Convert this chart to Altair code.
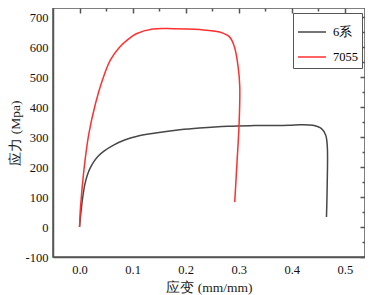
import altair as alt
import pandas as pd

# ---- data ----
series_names = ["6系", "7055"]
series_colors = ["#474747", "#ff3030"]

s6_strain = [0, 0.003, 0.0065, 0.01, 0.0145, 0.02, 0.027, 0.035, 0.046, 0.065, 0.085, 0.107, 0.143,
             0.189, 0.226, 0.28, 0.33, 0.396, 0.415, 0.44, 0.456, 0.464, 0.467, 0.4668, 0.4654]
s6_stress = [0, 55, 105, 142, 172, 196, 218, 236, 253, 274, 290, 302, 313,
             324, 330, 336, 338, 339, 341, 339, 328, 306, 267, 144, 33]

r_strain = [0, 0.0019, 0.0082, 0.0176, 0.030, 0.043, 0.058, 0.075, 0.092, 0.107, 0.138,
            0.176, 0.226, 0.264, 0.283, 0.292, 0.299, 0.302, 0.3006, 0.297, 0.2925]
r_stress = [0, 67, 189, 311, 411, 489, 556, 598, 626, 644, 660,
            661, 658, 650, 633, 600, 533, 467, 339, 222, 83]

x_major = [0.0, 0.1, 0.2, 0.3, 0.4, 0.5]
x_minor = [0.05, 0.15, 0.25, 0.35, 0.45]
y_major = [-100, 0, 100, 200, 300, 400, 500, 600, 700]
y_minor = [-50, 50, 150, 250, 350, 450, 550, 650]

x_domain = [-0.05, 0.538]
y_domain = [-100, 730]

rows = []
for name, xs_, ys_ in [(series_names[0], s6_strain, s6_stress), (series_names[1], r_strain, r_stress)]:
    for i, (a, b) in enumerate(zip(xs_, ys_)):
        rows.append({"series": name, "strain": a, "stress": b, "idx": i})
df = pd.DataFrame(rows)

FONT = "Liberation Serif"
AX = "#555555"

base = alt.Chart(df)

def xs(axis):
    return alt.X("strain:Q", scale=alt.Scale(domain=x_domain, nice=False, zero=False), axis=axis)

def ys(axis):
    return alt.Y("stress:Q", scale=alt.Scale(domain=y_domain, nice=False, zero=False), axis=axis)

lines = base.mark_line(strokeWidth=1.5, interpolate="catmull-rom").encode(
    x=xs(alt.Axis(values=x_major, format=".1f", title="应变 (mm/mm)", ticks=False, grid=False,
                  labelFont=FONT, titleFont=FONT, labelFontSize=12.5, titleFontSize=13.5,
                  labelPadding=6, titlePadding=5, domainColor=AX, domainWidth=1.5)),
    y=ys(alt.Axis(values=y_major, labelExpr="'' + datum.value", title="应力 (Mpa)", ticks=False, grid=False,
                  labelFont=FONT, titleFont=FONT, labelFontSize=12.5, titleFontSize=13.5,
                  labelPadding=5, titlePadding=3, domainColor=AX, domainWidth=1.5)),
    color=alt.Color("series:N", scale=alt.Scale(domain=series_names, range=series_colors),
                    legend=alt.Legend(title=None, orient="none", legendX=240, legendY=5,
                                      symbolType="stroke", symbolSize=784, symbolStrokeWidth=1.5,
                                      labelFontSize=12.5, labelFont=FONT, labelOffset=6,
                                      padding=4, rowPadding=3, strokeColor=AX,
                                      fillColor="white", cornerRadius=0)),
    order=alt.Order("idx:Q"),
)

major = base.mark_point(opacity=0).encode(
    x=xs(alt.Axis(values=x_major, labels=False, domain=False, title=None, grid=False,
                  tickSize=5, offset=-5, tickColor=AX, tickWidth=1.5)),
    y=ys(alt.Axis(values=y_major, labels=False, domain=False, title=None, grid=False,
                  tickSize=5, offset=-5, tickColor=AX, tickWidth=1.5)),
)

minor = base.mark_point(opacity=0).encode(
    x=xs(alt.Axis(values=x_minor, labels=False, domain=False, title=None, grid=False,
                  tickSize=3, offset=-3, tickColor=AX, tickWidth=1.5)),
    y=ys(alt.Axis(values=y_minor, labels=False, domain=False, title=None, grid=False,
                  tickSize=3, offset=-3, tickColor=AX, tickWidth=1.5)),
)

chart = alt.layer(lines, major, minor).resolve_scale(
    x="independent", y="independent"
).resolve_axis(
    x="independent", y="independent"
).properties(
    width=312, height=249,
    autosize=alt.AutoSizeParams(type="none"),
    padding={"left": 45, "top": 0, "right": 0, "bottom": 38},
).configure_view(
    stroke=AX, strokeWidth=1.5
).configure_axis(
    labelFont=FONT, labelColor="#111",
    titleFont=FONT, titleFontWeight="normal", titleColor="#222",
).configure_legend(
    labelFont=FONT
)

chart.save("out.html", embed_options={"renderer": "svg", "actions": False})
